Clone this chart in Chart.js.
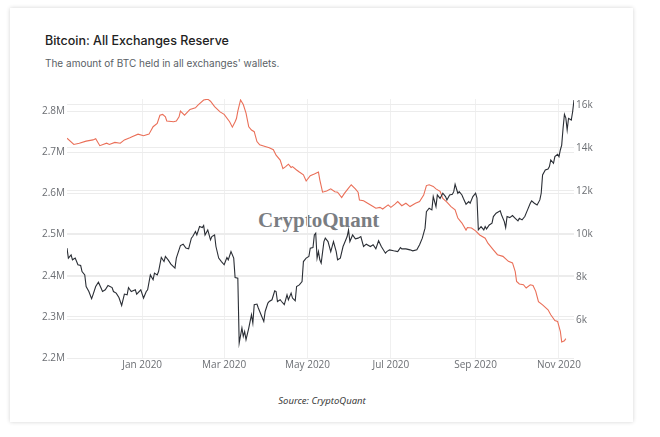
<!DOCTYPE html>
<html><head><meta charset="utf-8">
<script src="https://cdn.jsdelivr.net/npm/chart.js@4/dist/chart.umd.min.js"></script>
<style>
html,body{margin:0;padding:0;background:#fff;width:660px;height:437px;overflow:hidden}
#card{position:absolute;left:10px;top:8px;width:623px;height:414px;background:#fff;box-shadow:0 0 4px rgba(0,0,0,0.18)}
.t{position:absolute;white-space:nowrap;line-height:1}
#title{left:45px;top:33px;font:500 12.5px Inter;color:#222}
#sub{left:45px;top:57px;font:400 10px Inter;color:#5a5f66}
#wm{left:258px;top:208px;font:bold 21px "Liberation Serif";color:#7a7d82}
#src{left:222px;width:200px;text-align:center;top:394px;font:italic 400 9.5px "Noto Sans";color:#3a3a3a}
canvas{position:absolute;left:0;top:0}
</style></head>
<body>
<div id="card"></div>
<div class="t" id="title">Bitcoin: All Exchanges Reserve</div>
<div class="t" id="sub">The amount of BTC held in all exchanges' wallets.</div>
<div class="t" id="wm">CryptoQuant</div>
<div class="t" id="src">Source: CryptoQuant</div>
<canvas id="c" width="660" height="437"></canvas>
<script>
const reserveDates = ["2019-11-07","2019-11-12","2019-11-16","2019-11-21","2019-11-26","2019-11-28","2019-12-01","2019-12-06","2019-12-08","2019-12-12","2019-12-16","2019-12-19","2019-12-23","2019-12-25","2019-12-29","2020-01-02","2020-01-06","2020-01-09","2020-01-12","2020-01-14","2020-01-16","2020-01-18","2020-01-19","2020-01-24","2020-01-26","2020-01-28","2020-01-29","2020-02-01","2020-02-05","2020-02-09","2020-02-11","2020-02-15","2020-02-18","2020-02-20","2020-02-23","2020-02-27","2020-03-01","2020-03-05","2020-03-07","2020-03-09","2020-03-10","2020-03-11","2020-03-13","2020-03-15","2020-03-17","2020-03-19","2020-03-21","2020-03-23","2020-03-25","2020-03-27","2020-03-31","2020-04-03","2020-04-06","2020-04-08","2020-04-11","2020-04-13","2020-04-15","2020-04-17","2020-04-19","2020-04-20","2020-04-23","2020-04-25","2020-04-28","2020-04-30","2020-05-03","2020-05-06","2020-05-09","2020-05-10","2020-05-12","2020-05-15","2020-05-18","2020-05-21","2020-05-23","2020-05-26","2020-05-28","2020-05-31","2020-06-02","2020-06-05","2020-06-07","2020-06-08","2020-06-11","2020-06-14","2020-06-18","2020-06-20","2020-06-23","2020-06-25","2020-06-29","2020-07-01","2020-07-04","2020-07-06","2020-07-09","2020-07-12","2020-07-15","2020-07-19","2020-07-22","2020-07-25","2020-07-27","2020-07-29","2020-08-01","2020-08-03","2020-08-06","2020-08-08","2020-08-11","2020-08-14","2020-08-17","2020-08-19","2020-08-22","2020-08-25","2020-08-26","2020-08-29","2020-09-01","2020-09-04","2020-09-08","2020-09-10","2020-09-14","2020-09-17","2020-09-21","2020-09-25","2020-09-28","2020-09-30","2020-10-01","2020-10-03","2020-10-06","2020-10-08","2020-10-11","2020-10-13","2020-10-15","2020-10-17","2020-10-20","2020-10-24","2020-10-26","2020-10-29","2020-10-31","2020-11-02","2020-11-03","2020-11-05","2020-11-06"];
const reserveValues = [2734000,2719000,2722000,2727000,2730000,2733000,2716000,2722000,2719000,2724000,2722000,2730000,2735000,2738000,2744000,2740000,2744000,2762000,2770000,2790000,2792000,2786000,2776000,2774000,2776000,2786000,2800000,2790000,2804000,2808000,2815000,2827000,2829000,2824000,2811000,2798000,2792000,2774000,2761000,2774000,2782000,2800000,2827000,2816000,2795000,2762000,2754000,2750000,2726000,2718000,2714000,2711000,2706000,2693000,2681000,2660000,2665000,2671000,2663000,2665000,2657000,2652000,2645000,2630000,2643000,2647000,2652000,2633000,2603000,2606000,2611000,2604000,2603000,2590000,2600000,2613000,2621000,2611000,2603000,2584000,2582000,2576000,2568000,2564000,2566000,2562000,2572000,2566000,2574000,2580000,2570000,2576000,2568000,2576000,2580000,2596000,2619000,2621000,2617000,2611000,2605000,2588000,2579000,2568000,2560000,2540000,2528000,2511000,2517000,2516000,2509000,2499000,2491000,2479000,2463000,2451000,2447000,2435000,2431000,2410000,2386000,2380000,2378000,2370000,2378000,2376000,2362000,2337000,2329000,2317000,2305000,2291000,2289000,2265000,2239000,2242000,2247000];

const priceDates = ["2019-11-07","2019-11-08","2019-11-10","2019-11-11","2019-11-13","2019-11-15","2019-11-17","2019-11-18","2019-11-20","2019-11-21","2019-11-23","2019-11-25","2019-11-26","2019-11-28","2019-11-30","2019-12-02","2019-12-03","2019-12-05","2019-12-07","2019-12-10","2019-12-11","2019-12-13","2019-12-15","2019-12-17","2019-12-19","2019-12-21","2019-12-22","2019-12-24","2019-12-27","2019-12-28","2019-12-31","2020-01-02","2020-01-04","2020-01-05","2020-01-07","2020-01-09","2020-01-10","2020-01-12","2020-01-13","2020-01-15","2020-01-17","2020-01-18","2020-01-20","2020-01-22","2020-01-25","2020-01-26","2020-01-29","2020-01-31","2020-02-02","2020-02-04","2020-02-06","2020-02-07","2020-02-09","2020-02-10","2020-02-12","2020-02-14","2020-02-15","2020-02-16","2020-02-18","2020-02-20","2020-02-21","2020-02-23","2020-02-24","2020-02-26","2020-02-28","2020-03-01","2020-03-03","2020-03-04","2020-03-06","2020-03-08","2020-03-09","2020-03-11","2020-03-12","2020-03-14","2020-03-15","2020-03-16","2020-03-17","2020-03-19","2020-03-20","2020-03-21","2020-03-22","2020-03-23","2020-03-25","2020-03-26","2020-03-28","2020-03-30","2020-03-31","2020-04-02","2020-04-03","2020-04-05","2020-04-07","2020-04-08","2020-04-09","2020-04-11","2020-04-12","2020-04-14","2020-04-16","2020-04-17","2020-04-19","2020-04-20","2020-04-22","2020-04-23","2020-04-25","2020-04-27","2020-04-28","2020-04-30","2020-05-02","2020-05-03","2020-05-05","2020-05-06","2020-05-07","2020-05-08","2020-05-09","2020-05-10","2020-05-11","2020-05-13","2020-05-14","2020-05-16","2020-05-18","2020-05-20","2020-05-22","2020-05-23","2020-05-25","2020-05-27","2020-05-28","2020-05-30","2020-05-31","2020-06-01","2020-06-03","2020-06-05","2020-06-07","2020-06-09","2020-06-11","2020-06-13","2020-06-16","2020-06-18","2020-06-20","2020-06-22","2020-06-24","2020-06-27","2020-06-28","2020-06-30","2020-07-03","2020-07-06","2020-07-08","2020-07-09","2020-07-12","2020-07-15","2020-07-17","2020-07-20","2020-07-22","2020-07-24","2020-07-26","2020-07-27","2020-07-29","2020-07-31","2020-08-01","2020-08-03","2020-08-04","2020-08-06","2020-08-08","2020-08-10","2020-08-11","2020-08-13","2020-08-15","2020-08-16","2020-08-17","2020-08-19","2020-08-20","2020-08-22","2020-08-23","2020-08-25","2020-08-27","2020-08-28","2020-08-30","2020-09-01","2020-09-02","2020-09-03","2020-09-05","2020-09-07","2020-09-08","2020-09-09","2020-09-11","2020-09-13","2020-09-14","2020-09-16","2020-09-19","2020-09-20","2020-09-22","2020-09-23","2020-09-24","2020-09-26","2020-09-28","2020-09-30","2020-10-02","2020-10-03","2020-10-05","2020-10-07","2020-10-09","2020-10-11","2020-10-12","2020-10-14","2020-10-16","2020-10-18","2020-10-19","2020-10-20","2020-10-22","2020-10-24","2020-10-25","2020-10-26","2020-10-28","2020-10-29","2020-10-31","2020-11-01","2020-11-02","2020-11-03","2020-11-04","2020-11-05","2020-11-06","2020-11-07","2020-11-08","2020-11-10","2020-11-11","2020-11-12"];
const priceValues = [9333,8870,9020,8790,8870,8560,8525,8245,8090,7550,7315,6980,7160,7550,7750,7470,7315,7395,7595,7500,7315,7240,7035,6665,7195,7160,7500,7315,7395,7195,7395,7010,7315,7395,8090,7860,8170,8090,8245,8900,8710,8945,8790,8590,8405,8870,9455,9520,9335,9300,9800,9875,10105,9950,10340,10290,10385,9950,10185,9720,9875,9950,9410,8870,8710,8560,8900,8790,9175,8870,7965,7940,4915,5615,5225,5455,5070,5615,5920,6230,5845,6700,6730,6545,6230,5920,6385,6775,6850,6930,7350,7315,6850,6930,6850,6700,7160,6930,7240,7010,6885,7550,7625,7780,8710,8870,8945,9335,9360,9950,10030,8870,9175,8790,8635,9640,9800,9640,9175,9640,9175,8790,8870,9410,9565,9875,10185,9640,9950,9765,9800,9875,9410,9520,9410,9490,9300,9675,9410,9100,9175,9255,9210,9175,9360,9300,9300,9255,9210,9255,9490,9800,10265,11035,11195,11115,11735,11270,11810,11650,11890,11735,11580,11810,11845,11965,12310,11890,11965,11810,11660,11380,11500,11425,11735,11890,11660,10185,10340,10185,10340,10230,10415,10495,10805,10960,11070,10880,10570,10290,10805,10755,10850,10725,10605,10725,10650,10805,11115,11425,11535,11425,11345,11580,11890,12740,12975,13020,13130,13440,13285,13595,13705,13595,13905,14135,14915,15565,15405,14835,15380,15300,15685,16230];

const xTickDates = ["2020-01-01","2020-03-01","2020-05-01","2020-07-01","2020-09-01","2020-11-01"];
const xTickLabels = ["Jan 2020","Mar 2020","May 2020","Jul 2020","Sep 2020","Nov 2020"];
const reserveTicks = [2200000,2300000,2400000,2500000,2600000,2700000,2800000];
const reserveTickLabels = ["2.2M","2.3M","2.4M","2.5M","2.6M","2.7M","2.8M"];
const priceTicks = [6000,8000,10000,12000,14000,16000];
const priceTickLabels = ["6k","8k","10k","12k","14k","16k"];

const ORIGIN = Date.UTC(2020,0,1);
function dayNum(s){const p=s.split('-').map(Number);return Math.round((Date.UTC(p[0],p[1]-1,p[2])-ORIGIN)/86400000);}
const xTicks = xTickDates.map(dayNum);
const reservePts = reserveDates.map((d,i)=>({x:dayNum(d),y:reserveValues[i]}));
const pricePts = priceDates.map((d,i)=>({x:dayNum(d),y:priceValues[i]}));
const xMin = Math.min(dayNum(reserveDates[0]),dayNum(priceDates[0]));
const xMax = Math.max(dayNum(reserveDates[reserveDates.length-1]),dayNum(priceDates[priceDates.length-1]));

const tickFont = {family:'"Open Sans"',size:10};
const tickColor = '#6b6e73';

new Chart(document.getElementById('c'),{
  type:'line',
  data:{datasets:[
    {label:'Price',data:pricePts,yAxisID:'y1',borderColor:'#2a2e35',borderWidth:1.1,pointRadius:0,tension:0,fill:false},
    {label:'Reserve',data:reservePts,yAxisID:'y',borderColor:'#ea6f58',borderWidth:1.1,pointRadius:0,tension:0,fill:false}
  ]},
  options:{
    responsive:false,animation:false,
    layout:{padding:{top:99,left:0,right:0,bottom:0}},
    plugins:{legend:{display:false},tooltip:{enabled:false}},
    scales:{
      x:{type:'linear',min:xMin,max:xMax,
        grid:{color:'#f0f0f0',drawTicks:false},border:{display:false},
        afterBuildTicks:s=>{s.ticks=xTicks.map(v=>({value:v}));},
        afterFit:s=>{s.height=79;},
        ticks:{font:tickFont,color:tickColor,padding:1,maxRotation:0,autoSkip:false,
          callback:v=>{const i=xTicks.indexOf(v);return i>=0?xTickLabels[i]:'';}}},
      y:{type:'linear',position:'left',min:2200000,max:2829400,
        grid:{color:'#ececec',drawTicks:false},border:{display:false},
        afterBuildTicks:s=>{s.ticks=reserveTicks.map(v=>({value:v}));},
        afterFit:s=>{s.width=67;},
        ticks:{font:tickFont,color:tickColor,padding:2,
          callback:v=>{const i=reserveTicks.indexOf(v);return i>=0?reserveTickLabels[i]:'';}}},
      y1:{type:'linear',position:'right',min:4219,max:16279,
        grid:{color:'#ececec',drawTicks:false},border:{display:false},
        afterBuildTicks:s=>{s.ticks=priceTicks.map(v=>({value:v}));},
        afterFit:s=>{s.width=86;},
        ticks:{font:tickFont,color:tickColor,padding:2,
          callback:v=>{const i=priceTicks.indexOf(v);return i>=0?priceTickLabels[i]:'';}}}
    }
  }
});
</script>
</body></html>
